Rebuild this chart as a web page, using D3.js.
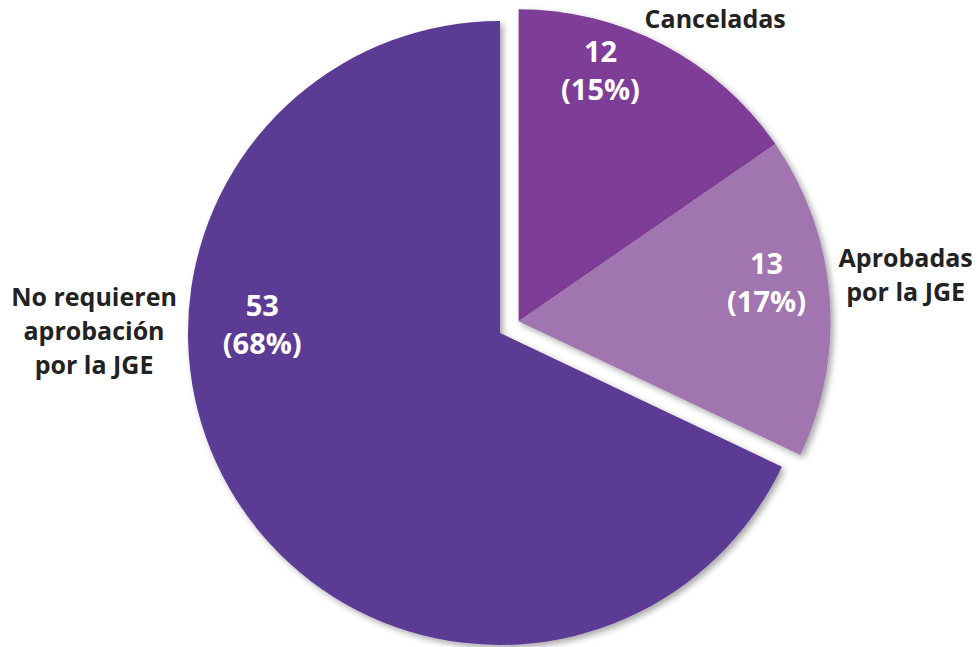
<!DOCTYPE html>
<html>
<head>
<meta charset="utf-8">
<script src="https://cdn.jsdelivr.net/npm/d3@7"></script>
<style>
  html, body { margin: 0; padding: 0; background: #fff; }
  svg { display: block; font-family: 'Open Sans', Lato, sans-serif; }
</style>
</head>
<body>
<div id="svg-container"></div>
<script>
// data, in pie order (clockwise from 12 o'clock)
const categories = ['Canceladas', 'Aprobadas por la JGE', 'No requieren aprobación por la JGE']
const categoryLines = [['Canceladas'], ['Aprobadas', 'por la JGE'], ['No requieren', 'aprobación', 'por la JGE']]
const values = [12, 13, 53]
const exploded = [true, true, false]

const colors = ['#7e3d96', '#a175b0', '#5c3a94']

// label layout: angle (deg, clockwise from top) and distance from the slice vertex
const innerLabelPos = [
  { angle: 18, radius: 265 },
  { angle: 81, radius: 251 },
  { angle: 272.4, radius: 238 },
]
const outerLabelPos = [
  { angle: 33, radius: 361 },
  { angle: 83, radius: 390 },
  { angle: 270.4, radius: 406 },
]

const svgWidth = 979
const svgHeight = 647
const cx = 500
const cy = 333
const radius = 312
const explodeBy = 22
const valueFontSize = 29
const valueLineHeight = 38
const catFontSize = 25
const catLineHeight = 34

const svg = d3
  .select('#svg-container')
  .append('svg')
  .attr('width', svgWidth)
  .attr('height', svgHeight)

const defs = svg.append('defs')
defs
  .append('filter')
  .attr('id', 'shadow')
  .attr('x', '-10%')
  .attr('y', '-10%')
  .attr('width', '120%')
  .attr('height', '120%')
  .append('feDropShadow')
  .attr('dx', 3)
  .attr('dy', 3)
  .attr('stdDeviation', 3)
  .attr('flood-color', '#000')
  .attr('flood-opacity', 0.35)

const total = d3.sum(values)
const pctFormat = d3.format('.0%')

const pie = d3.pie().sort(null).value(d => d.value)
const arcs = pie(values.map((v, i) => ({ value: v, index: i })))

const arcGen = d3.arc().innerRadius(0).outerRadius(radius)

// exploded slices move out together, along the bisector of their combined wedge
const explodedArcs = arcs.filter((a, i) => exploded[i])
const explodeMid =
  (d3.min(explodedArcs, a => a.startAngle) + d3.max(explodedArcs, a => a.endAngle)) / 2
const [exDx, exDy] = d3.pointRadial(explodeMid, explodeBy)

const chart = svg.append('g').attr('transform', `translate(${cx}, ${cy})`)

const slices = chart
  .selectAll('g.slice')
  .data(arcs)
  .join('g')
  .attr('class', 'slice')
  .attr('transform', (d, i) => (exploded[i] ? `translate(${exDx}, ${exDy})` : null))

slices
  .append('path')
  .attr('d', arcGen)
  .attr('fill', (d, i) => colors[i])
  .attr('filter', 'url(#shadow)')

// value labels inside slices
slices.each(function (d, i) {
  const g = d3.select(this)
  const [x, y] = d3.pointRadial(
    (innerLabelPos[i].angle * Math.PI) / 180,
    innerLabelPos[i].radius,
  )
  const lines = [String(values[i]), `(${pctFormat(values[i] / total)})`]
  const text = g
    .append('text')
    .attr('text-anchor', 'middle')
    .attr('fill', '#fff')
    .style('font-size', `${valueFontSize}px`)
    .style('font-weight', 700)
  lines.forEach((l, k) => {
    text
      .append('tspan')
      .attr('x', x)
      .attr('y', y + (k - (lines.length - 1) / 2) * valueLineHeight)
      .attr('dominant-baseline', 'central')
      .text(l)
  })

  // category labels outside
  const [ox, oy] = d3.pointRadial(
    (outerLabelPos[i].angle * Math.PI) / 180,
    outerLabelPos[i].radius,
  )
  const ct = g
    .append('text')
    .attr('text-anchor', 'middle')
    .attr('fill', '#222')
    .style('font-size', `${catFontSize}px`)
    .style('font-weight', 700)
  const cl = categoryLines[i]
  cl.forEach((l, k) => {
    ct.append('tspan')
      .attr('x', ox)
      .attr('y', oy + (k - (cl.length - 1) / 2) * catLineHeight)
      .attr('dominant-baseline', 'central')
      .text(l)
  })
})
</script>
</body>
</html>
